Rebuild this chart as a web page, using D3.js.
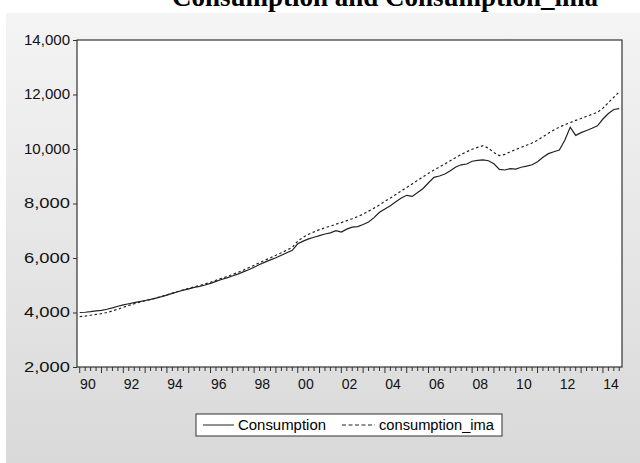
<!DOCTYPE html><html><head><meta charset="utf-8">
<script src="https://cdn.jsdelivr.net/npm/d3@7"></script>
<style>body{margin:0;background:#fff}svg{display:block}</style></head><body>
<svg id="c" width="640" height="463"></svg>
<script>
const startYear = 1990;
const consumption = [4000,4010,4030,4060, 4080,4120,4170,4230, 4280,4320,4360,4400, 4440,4480,4530,4580,
 4640,4700,4760,4820, 4870,4920,4960,5010, 5070,5140,5210,5270, 5340,5410,5490,5570,
 5660,5760,5850,5930, 6010,6100,6190,6280, 6520,6620,6700,6760, 6820,6880,6920,7000,
 6950,7060,7130,7150, 7230,7320,7480,7680, 7800,7920,8060,8200, 8300,8260,8400,8550,
 8760,8960,9010,9080, 9200,9340,9420,9450, 9550,9580,9600,9570, 9460,9250,9230,9280,
 9260,9330,9370,9420, 9530,9700,9830,9900, 9960,10320,10800,10500, 10600,10680,10760,10850,
 11100,11300,11450,11480];
const consumptionIma = [3850,3870,3900,3930, 3960,4000,4060,4120, 4190,4260,4320,4380, 4430,4480,4530,4590,
 4650,4710,4770,4830, 4880,4940,4990,5050, 5110,5180,5250,5320, 5390,5470,5550,5640,
 5730,5830,5920,6010, 6100,6190,6290,6390, 6620,6760,6870,6960, 7040,7110,7170,7240,
 7300,7370,7440,7520, 7610,7720,7830,7950, 8080,8200,8330,8460, 8590,8720,8850,8980,
 9110,9230,9340,9450, 9570,9690,9800,9900, 9990,10060,10120,10030, 9870,9760,9800,9900,
 9980,10060,10140,10220, 10320,10450,10580,10700, 10800,10890,10970,11050, 11120,11200,11270,11350,
 11500,11700,11900,12100];
const yTicks = [2000,4000,6000,8000,10000,12000,14000];
const xLabelYears = [1990,1992,1994,1996,1998,2000,2002,2004,2006,2008,2010,2012,2014];
const legendLabels = ["Consumption","consumption_ima"];

const svg = d3.select("#c");
const defs = svg.append("defs");
const g = defs.append("linearGradient").attr("id","bg").attr("x1",0).attr("y1",0).attr("x2",0).attr("y2",1);
g.append("stop").attr("offset","0%").attr("stop-color","#f4f4f4");
g.append("stop").attr("offset","100%").attr("stop-color","#d9d9d9");
svg.append("rect").attr("x",6).attr("y",13).attr("width",634).attr("height",450).attr("fill","url(#bg)");
svg.append("text").attr("x",385).attr("y",6).attr("text-anchor","middle")
  .attr("font-family","Liberation Serif").attr("font-weight","bold").attr("font-size",27)
  .text("Consumption and Consumption_ima");

const F = "Liberation Sans", FS = 14;
const L=77,R=622,T=40,B=367;
const x = d3.scaleLinear().domain([startYear, startYear+25]).range([L,R]);
const y = d3.scaleLinear().domain([2000,14000]).range([B,T]);
svg.append("rect").attr("x",L).attr("y",T).attr("width",R-L).attr("height",B-T).attr("fill","#fff").attr("stroke","#333").attr("stroke-width",1.2);

const ya = svg.append("g").attr("transform",`translate(${L},0)`)
  .call(d3.axisLeft(y).tickValues(yTicks).tickSize(4).tickFormat(d3.format(",")));
ya.select(".domain").remove();
ya.selectAll("text").attr("font-family",F).attr("font-size",FS).attr("fill","#111").attr("textLength",46).attr("lengthAdjust","spacingAndGlyphs");
ya.selectAll("line").attr("stroke","#333");

const qt = d3.range(startYear, startYear+25, 0.25);
const xa = svg.append("g").attr("transform",`translate(0,${B})`);
xa.selectAll("line").data(qt).join("line")
  .attr("x1",d=>x(d+0.125)).attr("x2",d=>x(d+0.125)).attr("y1",0)
  .attr("y2",d=>Math.abs(d-Math.round(d))<0.01?6:4).attr("stroke","#333");
xa.selectAll("text").data(xLabelYears).join("text")
  .attr("x",d=>x(d+0.5)).attr("y",22).attr("text-anchor","middle")
  .attr("font-family",F).attr("font-size",FS).attr("fill","#111")
  .text(d=>String(d%100).padStart(2,"0"));

const line = d3.line().x((d,i)=>x(startYear+i*0.25+0.125)).y(d=>y(d));
svg.append("path").datum(consumption).attr("d",line).attr("fill","none").attr("stroke","#222").attr("stroke-width",1.2);
svg.append("path").datum(consumptionIma).attr("d",line).attr("fill","none").attr("stroke","#222").attr("stroke-width",1.2).attr("stroke-dasharray","2.5,2.5");

const lg = svg.append("g").attr("transform","translate(196,414)");
lg.append("rect").attr("width",306).attr("height",22).attr("fill","#fff").attr("stroke","#333");
lg.append("line").attr("x1",7).attr("x2",38).attr("y1",11).attr("y2",11).attr("stroke","#222");
lg.append("text").attr("x",42).attr("y",16).attr("font-family",F).attr("font-size",FS).attr("textLength",88).attr("lengthAdjust","spacingAndGlyphs").text(legendLabels[0]);
lg.append("line").attr("x1",146).attr("x2",179).attr("y1",11).attr("y2",11).attr("stroke","#222").attr("stroke-dasharray","4,2.5");
lg.append("text").attr("x",183).attr("y",16).attr("font-family",F).attr("font-size",FS).attr("textLength",115).attr("lengthAdjust","spacingAndGlyphs").text(legendLabels[1]);
</script></body></html>
